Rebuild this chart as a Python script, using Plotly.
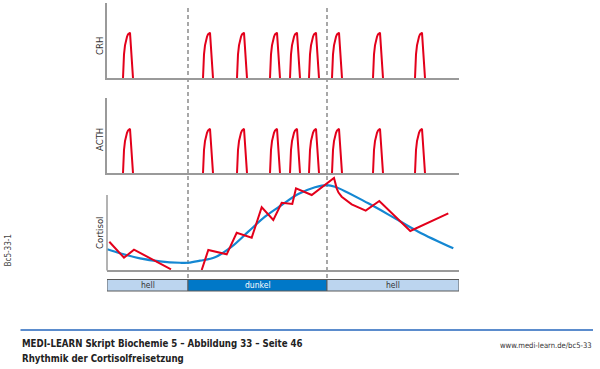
import plotly.graph_objects as go

# ---------------- data ----------------
# time axis in arbitrary units (0 .. 352)
pulse_onsets = [16, 96, 130, 163, 183, 202, 225, 266, 308]
pulse_profile_dx = [0, 0.5, 1, 2, 3, 4, 5, 6, 7, 10]
pulse_profile_h = [0, 0.35, 0.52, 0.72, 0.83, 0.91, 0.96, 0.99, 1.0, 0]
crh_peak = 0.605
acth_peak = 0.59

cort_red_1_x = [2.3, 17, 27, 64]
cort_red_1_y = [0.377, 0.164, 0.271, 0.009]
cort_red_2_x = [94.7, 101.3, 119.7, 129.7, 144.7, 154.7, 166.3, 174.7, 185.3, 189, 204.7,
                227, 229.7, 231.5, 234.7, 244.7, 258.7, 272.3, 303.3, 341.3]
cort_red_2_y = [0.0, 0.267, 0.209, 0.497, 0.431, 0.836, 0.667, 0.897, 0.88, 1.089, 1.0,
                1.227, 1.089, 1.033, 0.977, 0.876, 0.791, 0.92, 0.52, 0.756]

cort_blue_x = [0.3, 13, 33, 53, 73, 81.3, 93, 108, 124.7, 141.3, 158, 174.7, 191.3, 208,
               219.7, 228, 261.3, 288, 311.3, 346.3]
cort_blue_y = [0.276, 0.223, 0.156, 0.116, 0.097, 0.097, 0.124, 0.169, 0.311, 0.511, 0.711,
               0.867, 1.013, 1.103, 1.133, 1.111, 0.889, 0.689, 0.511, 0.289]

phase_labels = ["hell", "dunkel", "hell"]
phase_start = [0, 81, 220]
phase_end = [81, 220, 352]
phase_boundaries = [81, 220]

panel_labels = ["CRH", "ACTH", "Cortisol"]

# ---------------- helpers ----------------
W, H = 600, 369
def px(x):
    return x / W
def py(y):
    return 1 - y / H

RED = "#e3001b"
BLUE = "#1487d2"
AXC = "#9a9a9a"
FONT = "Liberation Sans Narrow, DejaVu Sans Condensed, Arial Narrow, Arial, sans-serif"

def pulses(peak):
    xs, ys = [], []
    for o in pulse_onsets:
        xs += [o + d for d in pulse_profile_dx] + [None]
        ys += [h * peak for h in pulse_profile_h] + [None]
    return xs, ys

fig = go.Figure()
for ax, peak in (("", crh_peak), ("2", acth_peak)):
    xs, ys = pulses(peak)
    fig.add_trace(go.Scatter(x=xs, y=ys, mode="lines", line=dict(color=RED, width=2),
                             xaxis="x" + ax, yaxis="y" + ax, hoverinfo="skip", showlegend=False))

fig.add_trace(go.Scatter(x=cort_blue_x, y=cort_blue_y, mode="lines",
                         line=dict(color=BLUE, width=2.2, shape="spline", smoothing=1.0),
                         xaxis="x3", yaxis="y3", showlegend=False))
fig.add_trace(go.Scatter(x=cort_red_1_x + [None] + cort_red_2_x,
                         y=cort_red_1_y + [None] + cort_red_2_y, mode="lines",
                         line=dict(color=RED, width=2), xaxis="x3", yaxis="y3",
                         connectgaps=False, showlegend=False))

xdom = [px(107), px(459)]
common_x = dict(domain=xdom, range=[0, 352], showgrid=False, zeroline=False,
                showticklabels=False, ticks="", showline=True, linecolor=AXC, linewidth=1.5)
common_y = dict(showgrid=False, zeroline=False, showticklabels=False, ticks="",
                linecolor=AXC, linewidth=1.5)

layout = dict(
    width=W, height=H, margin=dict(l=0, r=0, t=0, b=0),
    paper_bgcolor="white", plot_bgcolor="rgba(0,0,0,0)",
    showlegend=False,
    xaxis=dict(common_x, anchor="y"),
    yaxis=dict(common_y, domain=[py(78), py(3)], range=[0, 1], showline=True, anchor="x"),
    xaxis2=dict(common_x, anchor="y2"),
    yaxis2=dict(common_y, domain=[py(173), py(98)], range=[0, 1], showline=True, anchor="x2"),
    xaxis3=dict(common_x, anchor="y3"),
    yaxis3=dict(common_y, domain=[py(270), py(174)], range=[0, 96 / 75], showline=False, anchor="x3"),
)
fig.update_layout(**layout)

shapes = []
# cortisol y-axis line (only up to nominal top)
shapes.append(dict(type="line", xref="paper", yref="paper", x0=px(107), x1=px(107),
                   y0=py(270.5), y1=py(195), line=dict(color=AXC, width=1.5)))
# dashed light/dark boundaries
for b in phase_boundaries:
    shapes.append(dict(type="line", xref="x3", yref="paper", x0=b, x1=b, y0=py(278), y1=py(7),
                       line=dict(color="#6e6e6e", width=1.2, dash="4px,3px"), layer="below"))
# phase bar
annotations = []
for lab, s, e in zip(phase_labels, phase_start, phase_end):
    dark = lab == "dunkel"
    shapes.append(dict(type="rect", xref="x3", yref="paper", x0=s, x1=e, y0=py(291), y1=py(279.5),
                       fillcolor="#0078c8" if dark else "#bcd5ef",
                       line=dict(color="#5a5a5a", width=1)))
    annotations.append(dict(x=(s + e) / 2, y=py(285.3), xref="x3", yref="paper", text=lab,
                            showarrow=False, xanchor="center", yanchor="middle",
                            font=dict(family=FONT, size=8.5, color="white" if dark else "#333")))
# footer line
shapes.append(dict(type="line", xref="paper", yref="paper", x0=px(20.5), x1=px(593),
                   y0=py(330), y1=py(330), line=dict(color="#5b8ccd", width=2)))

# panel labels
for lab, yc in zip(panel_labels, [46.5, 139.5, 232.5]):
    annotations.append(dict(x=px(99.5), y=py(yc), xref="paper", yref="paper", text=lab,
                            showarrow=False, textangle=-90, xanchor="center", yanchor="middle",
                            font=dict(family=FONT, size=9.5, color="#333")))

annotations += [
    dict(x=px(7.5), y=py(251), xref="paper", yref="paper", text="Bc5-33-1", showarrow=False,
         textangle=-90, xanchor="center", yanchor="middle",
         font=dict(family=FONT, size=8, color="#444")),
    dict(x=px(19.5), y=py(343.5), xref="paper", yref="paper",
         text="<b>MEDI-LEARN Skript Biochemie 5 – Abbildung 33 – Seite 46</b>", showarrow=False,
         xanchor="left", yanchor="middle", font=dict(family=FONT, size=9.6, color="#222")),
    dict(x=px(19.5), y=py(358.5), xref="paper", yref="paper",
         text="<b>Rhythmik der Cortisolfreisetzung</b>", showarrow=False,
         xanchor="left", yanchor="middle", font=dict(family=FONT, size=9.6, color="#222")),
    dict(x=px(594), y=py(345), xref="paper", yref="paper", text="www.medi-learn.de/bc5-33",
         showarrow=False, xanchor="right", yanchor="middle",
         font=dict(family=FONT, size=7.6, color="#333")),
]
fig.update_layout(shapes=shapes, annotations=annotations)

fig.write_html("out.html", config={"displayModeBar": False},
               post_script="document.body.style.margin='0';document.body.style.padding='0';")
